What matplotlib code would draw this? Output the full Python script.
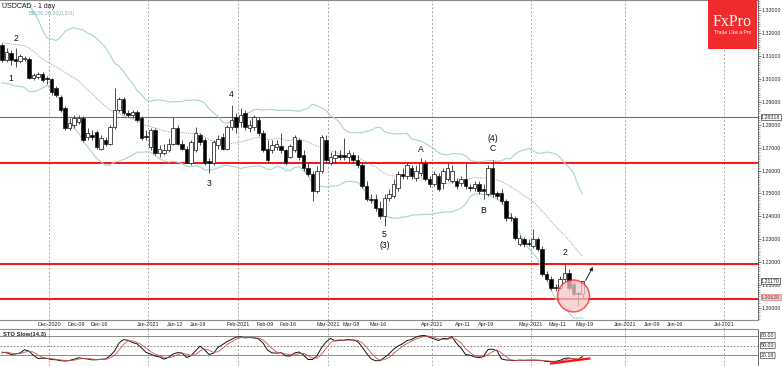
import numpy as np
import pandas as pd
import matplotlib
matplotlib.use("Agg")
import matplotlib.pyplot as plt
from matplotlib.patches import Ellipse, Rectangle
import matplotlib.transforms as mtransforms
from matplotlib import font_manager

plt.rcParams['font.family'] = ['Liberation Sans', 'DejaVu Sans']
_installed = {f.name for f in font_manager.fontManager.ttflist}
NARROW = [f for f in ['Liberation Sans Narrow', 'Liberation Sans', 'DejaVu Sans'] if f in _installed]
HAS_NARROW = 'Liberation Sans Narrow' in _installed

# ---------------- data ----------------
symbol_title = "USDCAD - 1 day"
bb_title = "BB(20,20,20,0,2.0)"
sto_title = "STO Slow(14,3)"

opens = [1.3148, 1.3082, 1.3113, 1.3087, 1.3078, 1.3087, 1.3087, 1.3003, 1.3008, 1.3021,
         1.3003, 1.2999, 1.2960, 1.2920, 1.2872, 1.2784, 1.2797, 1.2811, 1.2828, 1.2745,
         1.2754, 1.2767, 1.2696, 1.2732, 1.2718, 1.2789, 1.2863, 1.2911, 1.2850, 1.2841,
         1.2854, 1.2828, 1.2749, 1.2701, 1.2775, 1.2675, 1.2675, 1.2688, 1.2718, 1.2784,
         1.2718, 1.2696, 1.2635, 1.2688, 1.2754, 1.2732, 1.2640, 1.2635, 1.2710, 1.2745,
         1.2696, 1.2789, 1.2832, 1.2811, 1.2850, 1.2784, 1.2789, 1.2819, 1.2762, 1.2696,
         1.2688, 1.2701, 1.2705, 1.2688, 1.2661, 1.2688, 1.2732, 1.2666, 1.2613, 1.2587,
         1.2512, 1.2600, 1.2732, 1.2635, 1.2653, 1.2666, 1.2666, 1.2657, 1.2666, 1.2644,
         1.2622, 1.2534, 1.2477, 1.2477, 1.2438, 1.2403, 1.2482, 1.2490, 1.2525, 1.2587,
         1.2578, 1.2609, 1.2569, 1.2591, 1.2631, 1.2565, 1.2543, 1.2578, 1.2547, 1.2565,
         1.2556, 1.2556, 1.2547, 1.2565, 1.2530, 1.2525, 1.2543, 1.2521, 1.2499, 1.2609,
         1.2504, 1.2504, 1.2468, 1.2398, 1.2394, 1.2280, 1.2302, 1.2284, 1.2271, 1.2302,
         1.2258, 1.2148, 1.2126, 1.2091, 1.2087, 1.2126, 1.2153, 1.2104, 1.2065, 1.2061]
highs = [1.3157, 1.3135, 1.3126, 1.3135, 1.3109, 1.3100, 1.3096, 1.3025, 1.3030, 1.3030,
         1.3012, 1.3003, 1.2968, 1.2929, 1.2881, 1.2828, 1.2841, 1.2841, 1.2837, 1.2784,
         1.2775, 1.2775, 1.2754, 1.2745, 1.2797, 1.2960, 1.2920, 1.2920, 1.2863, 1.2863,
         1.2863, 1.2837, 1.2775, 1.2784, 1.2784, 1.2710, 1.2718, 1.2740, 1.2832, 1.2797,
         1.2732, 1.2705, 1.2732, 1.2789, 1.2762, 1.2740, 1.2653, 1.2732, 1.2754, 1.2762,
         1.2797, 1.2885, 1.2850, 1.2872, 1.2863, 1.2819, 1.2841, 1.2832, 1.2775, 1.2732,
         1.2732, 1.2732, 1.2762, 1.2696, 1.2718, 1.2754, 1.2740, 1.2688, 1.2631, 1.2600,
         1.2618, 1.2754, 1.2754, 1.2679, 1.2688, 1.2688, 1.2740, 1.2688, 1.2679, 1.2666,
         1.2631, 1.2556, 1.2499, 1.2499, 1.2468, 1.2499, 1.2521, 1.2565, 1.2600, 1.2609,
         1.2631, 1.2622, 1.2622, 1.2653, 1.2644, 1.2578, 1.2600, 1.2591, 1.2609, 1.2631,
         1.2622, 1.2569, 1.2578, 1.2631, 1.2543, 1.2556, 1.2556, 1.2543, 1.2622, 1.2644,
         1.2512, 1.2521, 1.2477, 1.2416, 1.2403, 1.2319, 1.2311, 1.2302, 1.2346, 1.2311,
         1.2271, 1.2161, 1.2139, 1.2104, 1.2139, 1.2192, 1.2170, 1.2118, 1.2074, 1.2118]
lows = [1.3074, 1.3074, 1.3061, 1.3052, 1.3069, 1.3078, 1.2999, 1.2995, 1.2999, 1.2986,
        1.2977, 1.2929, 1.2920, 1.2854, 1.2775, 1.2775, 1.2784, 1.2802, 1.2723, 1.2732,
        1.2732, 1.2692, 1.2688, 1.2705, 1.2710, 1.2780, 1.2854, 1.2841, 1.2832, 1.2828,
        1.2811, 1.2732, 1.2732, 1.2688, 1.2666, 1.2657, 1.2666, 1.2679, 1.2710, 1.2710,
        1.2688, 1.2631, 1.2626, 1.2679, 1.2710, 1.2626, 1.2591, 1.2626, 1.2696, 1.2688,
        1.2688, 1.2775, 1.2762, 1.2789, 1.2775, 1.2767, 1.2775, 1.2749, 1.2679, 1.2635,
        1.2675, 1.2688, 1.2675, 1.2626, 1.2653, 1.2679, 1.2644, 1.2600, 1.2574, 1.2468,
        1.2504, 1.2591, 1.2635, 1.2622, 1.2635, 1.2644, 1.2644, 1.2635, 1.2631, 1.2613,
        1.2525, 1.2468, 1.2460, 1.2425, 1.2389, 1.2359, 1.2468, 1.2482, 1.2512, 1.2565,
        1.2565, 1.2565, 1.2556, 1.2578, 1.2556, 1.2530, 1.2534, 1.2512, 1.2521, 1.2556,
        1.2547, 1.2521, 1.2534, 1.2521, 1.2512, 1.2512, 1.2499, 1.2477, 1.2490, 1.2486,
        1.2477, 1.2455, 1.2381, 1.2381, 1.2297, 1.2271, 1.2267, 1.2271, 1.2262, 1.2249,
        1.2139, 1.2118, 1.2078, 1.2074, 1.2078, 1.2118, 1.2074, 1.2052, 1.2008, 1.2043]
closes = [1.3082, 1.3118, 1.3082, 1.3078, 1.3100, 1.3091, 1.3003, 1.3017, 1.3021, 1.2995,
          1.2999, 1.2942, 1.2929, 1.2863, 1.2784, 1.2806, 1.2828, 1.2828, 1.2732, 1.2762,
          1.2745, 1.2701, 1.2740, 1.2718, 1.2789, 1.2863, 1.2911, 1.2850, 1.2841, 1.2854,
          1.2819, 1.2740, 1.2745, 1.2775, 1.2675, 1.2696, 1.2688, 1.2718, 1.2784, 1.2718,
          1.2696, 1.2635, 1.2723, 1.2762, 1.2723, 1.2635, 1.2635, 1.2723, 1.2736, 1.2696,
          1.2789, 1.2819, 1.2789, 1.2841, 1.2789, 1.2797, 1.2832, 1.2762, 1.2688, 1.2644,
          1.2710, 1.2714, 1.2688, 1.2635, 1.2705, 1.2745, 1.2657, 1.2613, 1.2587, 1.2512,
          1.2600, 1.2745, 1.2644, 1.2657, 1.2666, 1.2661, 1.2657, 1.2675, 1.2644, 1.2622,
          1.2534, 1.2477, 1.2473, 1.2438, 1.2403, 1.2482, 1.2499, 1.2543, 1.2587, 1.2578,
          1.2622, 1.2578, 1.2600, 1.2631, 1.2565, 1.2543, 1.2587, 1.2521, 1.2600, 1.2609,
          1.2600, 1.2534, 1.2565, 1.2534, 1.2525, 1.2543, 1.2512, 1.2512, 1.2609, 1.2499,
          1.2490, 1.2468, 1.2394, 1.2394, 1.2306, 1.2306, 1.2280, 1.2280, 1.2302, 1.2258,
          1.2148, 1.2126, 1.2087, 1.2087, 1.2126, 1.2153, 1.2087, 1.2061, 1.2061, 1.2117]
# closes of the 19 sessions before the first visible bar (feed the indicators only)
warmup_closes = [1.3163, 1.3118, 1.3150, 1.3120, 1.3190, 1.3180, 1.3330, 1.3316, 1.3320, 1.3265,
                 1.3160, 1.3165, 1.3090, 1.3045, 1.3060, 1.3025, 1.3105, 1.3135, 1.3130]

first_date = "2020-11-16"
last_axis_date = "2021-07-20"
holidays = ["2020-12-25", "2021-01-01"]

date_labels = ["Dec-2020", "Dec-09", "Dec-16", "Jan-2021", "Jan-12", "Jan-19", "Feb-2021", "Feb-09",
               "Feb-16", "Mar-2021", "Mar-08", "Mar-16", "Apr-2021", "Apr-11", "Apr-19", "May-2021",
               "May-11", "May-19", "Jun-2021", "Jun-09", "Jun-16", "Jul-2021"]
date_label_dates = ["2020-12-01", "2020-12-09", "2020-12-16", "2021-01-01", "2021-01-12", "2021-01-19",
                    "2021-02-01", "2021-02-09", "2021-02-16", "2021-03-01", "2021-03-08", "2021-03-16",
                    "2021-04-01", "2021-04-11", "2021-04-19", "2021-05-01", "2021-05-11", "2021-05-19",
                    "2021-06-01", "2021-06-09", "2021-06-16", "2021-07-01"]

price_ticks = [1.20, 1.21, 1.22, 1.23, 1.24, 1.25, 1.26, 1.27, 1.28, 1.29, 1.30, 1.31, 1.32, 1.33]
red_levels = [1.2635, 1.2192, 1.2040]
grey_level = 1.28318
last_price = 1.21170
bid_tag = 1.20628

sto_levels = [80, 50, 20]
sto_tags = ["80.00", "50.00", "20.18"]

# wave labels: (text, bar index, anchored to 'high' or 'low', offset in px)
wave_labels = [("2", 3, "high", 5), ("1", 2, "low", 9), ("3", 46, "low", 6), ("4", 51, "high", 6),
               ("5", 85, "low", 4), ("(3)", 85, "low", 15), ("A", 93, "high", 4), ("B", 107, "low", 7),
               ("C", 109, "high", 7), ("(4)", 109, "high", 17), ("2", 125, "high", 7)]

# ---------------- calendar / indicators ----------------
O = np.array(opens); H = np.array(highs); L = np.array(lows); C = np.array(closes)
n = len(C)
x = np.arange(n)
cal = pd.bdate_range(first_date, last_axis_date)
cal = cal[~cal.isin(pd.to_datetime(holidays))]


def date_pos(d):
    return int(np.searchsorted(cal, pd.Timestamp(d)))


nw = len(warmup_closes)
allC = pd.Series(list(warmup_closes) + closes)
allH = pd.Series(list(warmup_closes) + highs)
allL = pd.Series(list(warmup_closes) + lows)
mid = allC.rolling(20).mean().values[nw:]
sd = allC.rolling(20).std(ddof=0).values[nw:]
upper = mid + 2 * sd
lower = mid - 2 * sd

hh = allH.rolling(14, min_periods=1).max()
ll = allL.rolling(14, min_periods=1).min()
num = (allC - ll).rolling(3, min_periods=1).sum()
den = (hh - ll).rolling(3, min_periods=1).sum()
k = 100 * num / den
d = k.rolling(3, min_periods=1).mean()
k = k.values[nw:]
d = d.values[nw:]

# ---------------- figure ----------------
W, Hh = 782, 366
fig = plt.figure(figsize=(W / 100, Hh / 100), dpi=100)
axw = 758 / W
ax = fig.add_axes([0, 1 - 320 / Hh, axw, 320 / Hh])
axd = fig.add_axes([0, 1 - 329 / Hh, axw, 9 / Hh])
axs = fig.add_axes([0, 0, axw, 37 / Hh])

xl = (-0.45, 168.0)
for a in (ax, axd, axs):
    a.set_xlim(*xl)
    a.set_facecolor('white')

ax.set_ylim(1.1947, 1.3345)

month_pos = [date_pos(dd) - 0.5 for lab, dd in zip(date_labels, date_label_dates) if lab[-4:].isdigit()]
for a in (ax, axd, axs):
    for mp in month_pos:
        a.axvline(mp, color='#a8a8a8', lw=0.7, ls=(0, (2, 2)), zorder=0)

# horizontal levels
for lv in red_levels:
    ax.axhline(lv, color='#ff1010', lw=1.4, zorder=2)
ax.axhline(grey_level, color='#6e6e6e', lw=0.8, zorder=2)

# bollinger
ax.plot(x, upper, color='#a9d3d3', lw=0.8, zorder=2)
ax.plot(x, lower, color='#a9d3d3', lw=0.8, zorder=2)
ax.plot(x, mid, color='#8a8a8a', lw=0.6, ls=(0, (1, 1.2)), zorder=2)

# candles
up = C >= O
ax.vlines(x, L, H, color='#333333', lw=0.6, zorder=3)
bh = np.maximum(np.abs(C - O), 0.00006)
ax.bar(x, bh, bottom=np.minimum(O, C), width=0.68, color=np.where(up, 'white', 'black'),
       edgecolor='#222222', linewidth=0.55, zorder=4)

# wave labels
for txt, bi, anchor, off in wave_labels:
    if anchor == 'high':
        ax.annotate(txt, (bi, H[bi]), xytext=(0, off * 0.72), textcoords='offset points',
                    ha='center', va='bottom', fontsize=6.2, color='#111111', zorder=6)
    else:
        ax.annotate(txt, (bi, L[bi]), xytext=(0, -off * 0.72), textcoords='offset points',
                    ha='center', va='top', fontsize=6.2, color='#111111', zorder=6)

# circle and arrow on the last bars
ax.add_patch(Ellipse((127.0, L[127]), 7.1, 0.0139, facecolor='#f8c8c8', alpha=0.75,
                     edgecolor='#ff2020', lw=1.1, zorder=5))
ax.annotate('', xy=(n + 1.6, red_levels[1] - 0.0002), xytext=(n - 0.6, C[-1] - 0.0008),
            arrowprops=dict(arrowstyle='-|>', color='#222222', lw=0.7, mutation_scale=5), zorder=6)

# titles
ax.text(0.003, 0.99, symbol_title, transform=ax.transAxes, fontsize=5, color='#222222',
        va='top', ha='left', family=NARROW)
ax.text(0.038, 0.965, bb_title, transform=ax.transAxes, fontsize=4, color='#7fb5b5',
        va='top', ha='left', family=NARROW)

# FxPro logo
logo = Rectangle((708 / W, 1 - 49 / Hh), 49 / W, 49 / Hh, transform=fig.transFigure,
                 facecolor='#ef2b2e', edgecolor='none', zorder=10)
fig.patches.append(logo)
fig.text(732.5 / W, 1 - 22 / Hh, "FxPro", color='white', fontsize=11.5,
         family=['Liberation Serif', 'DejaVu Serif'], ha='center', va='center', zorder=11)
fig.text(732.5 / W, 1 - 32 / Hh, "Trade Like a Pro", color='white', fontsize=3.6,
         family=NARROW, ha='center', va='center', zorder=11)

# right price axis
fs_axis = 4.2 if HAS_NARROW else 3.8
ax.yaxis.tick_right()
ax.set_yticks(price_ticks)
ax.set_yticklabels([f"{p:.5f}" for p in price_ticks], fontsize=fs_axis, family=NARROW, color='#222222')
ax.set_yticks(np.arange(1.195, 1.3345, 0.001), minor=True)
ax.tick_params(axis='y', which='major', length=2.0, width=0.5, pad=0.8, color='#444444')
ax.tick_params(axis='y', which='minor', length=1.2, width=0.4, color='#666666')
ax.set_xticks([])
for sp in ['left', 'top', 'bottom']:
    ax.spines[sp].set_visible(False)
ax.spines['right'].set_color('#555555')
ax.spines['right'].set_linewidth(0.6)
ax.axhline(1.3345, color='#8c8c8c', lw=0.8, zorder=1)

tr = mtransforms.blended_transform_factory(ax.transAxes, ax.transData)
tag_kw = dict(transform=tr, fontsize=fs_axis, family=NARROW, va='center', ha='left', zorder=12,
              clip_on=False)
ax.text(1.004, grey_level, f"{grey_level:.5f}", color='#222222',
        bbox=dict(boxstyle='square,pad=0.1', fc='white', ec='#444444', lw=0.5), **tag_kw)
ax.text(1.004, last_price, f"{last_price:.5f}", color='#222222',
        bbox=dict(boxstyle='square,pad=0.1', fc='white', ec='#333333', lw=0.5), **tag_kw)
ax.text(1.004, red_levels[2] + 0.0006, f"{bid_tag:.5f}", color='#555555',
        bbox=dict(boxstyle='square,pad=0.1', fc='#f6c4c4', ec='#e08080', lw=0.5), **tag_kw)

# date row
axd.set_ylim(0, 1)
axd.set_yticks([]); axd.set_xticks([])
for sp in ['left', 'right', 'bottom']:
    axd.spines[sp].set_visible(False)
axd.spines['top'].set_color('#8c8c8c'); axd.spines['top'].set_linewidth(0.8)
for lab, dd in zip(date_labels, date_label_dates):
    axd.text(date_pos(dd) - 0.5, 0.45, lab, fontsize=3.9, family=NARROW, ha='center', va='center',
             color='#222222', bbox=dict(boxstyle='square,pad=0.05', fc='white', ec='none'))

# stochastic panel
axs.set_ylim(-12, 100)
axs.plot(x, k, color='#111111', lw=0.7, zorder=3)
axs.plot(x, d, color='#d05050', lw=0.6, zorder=3)
axs.axhline(80, color='#777777', lw=0.6, zorder=1)
axs.axhline(50, color='#777777', lw=0.6, ls=(0, (2, 2)), zorder=1)
axs.axhline(20, color='#777777', lw=0.6, zorder=1)
axs.plot([122, n + 0.5], [k[122] - 6, k[-1] - 6], color='#ff1010', lw=1.6, zorder=4)
axs.set_xticks([])
axs.yaxis.tick_right()
axs.set_yticks([])
for sp in ['left', 'bottom']:
    axs.spines[sp].set_visible(False)
axs.spines['top'].set_color('#8c8c8c'); axs.spines['top'].set_linewidth(0.8)
axs.spines['right'].set_color('#555555'); axs.spines['right'].set_linewidth(0.6)
axs.text(0.004, 0.93, sto_title, transform=axs.transAxes, fontsize=4.2, family=NARROW,
         fontweight='bold', va='top', ha='left', color='#222222')
trs = mtransforms.blended_transform_factory(axs.transAxes, axs.transData)
for lv, tg in zip(sto_levels, sto_tags):
    axs.text(1.004, lv, tg, transform=trs, fontsize=fs_axis, family=NARROW, va='center', ha='left',
             color='#222222', bbox=dict(boxstyle='round,pad=0.12', fc='white', ec='#444444', lw=0.5),
             clip_on=False)

fig.savefig("out.png", dpi=100)
